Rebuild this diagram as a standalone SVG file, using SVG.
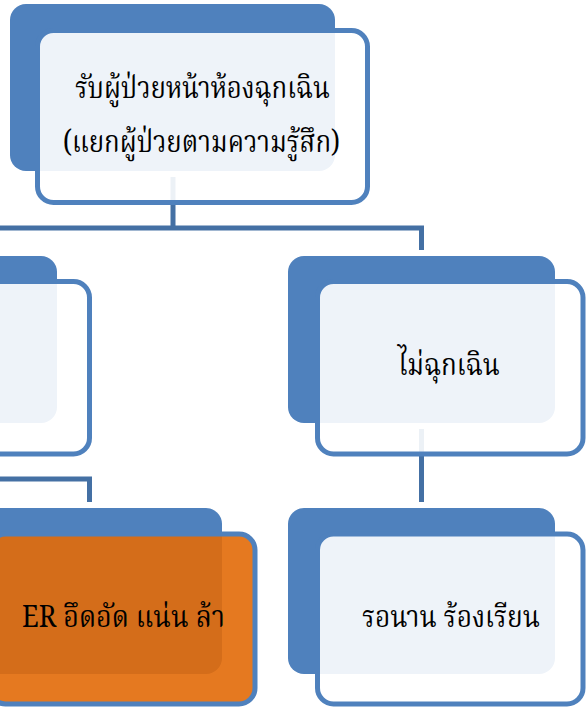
<svg xmlns="http://www.w3.org/2000/svg" width="586" height="714" viewBox="0 0 586 714">
  <style>
    .back { fill: #4F81BD; }
    .front { fill: #FFFFFF; fill-opacity: 0.9; stroke: #4F81BD; stroke-width: 5; }
    .front-hl { fill: #E26A08; fill-opacity: 0.9; stroke: #4F81BD; stroke-width: 5; }
    .conn { fill: none; stroke: #4470A4; stroke-width: 5; stroke-linejoin: miter; }
    .lbl { font-family: "Noto Serif Thai", "Noto Sans Thai", "Liberation Serif", serif; font-size: 31px; fill: #000000; text-anchor: middle; }
  </style>
  <g id="connectors">
    <path class="conn" d="M173 177 V228 M0 228 H421.5 V250"/>
    <path class="conn" d="M421.5 429 V502"/>
    <path class="conn" d="M0 479 H89.5 V502"/>
  </g>
  <g id="node-root">
    <rect class="back" x="10" y="4" width="325" height="167" rx="16"/>
    <rect class="front" x="37.5" y="30.5" width="330" height="172" rx="16"/>
    <text class="lbl" x="202.5" y="98" textLength="255" lengthAdjust="spacingAndGlyphs">รับผู้ป่วยหน้าห้องฉุกเฉิน</text>
    <text class="lbl" x="201.5" y="152" textLength="277" lengthAdjust="spacingAndGlyphs">(แยกผู้ป่วยตามความรู้สึก)</text>
  </g>
  <g id="node-emergency">
    <rect class="back" x="-210" y="256" width="267" height="167" rx="16"/>
    <rect class="front" x="-176" y="281.5" width="265.5" height="172.5" rx="16"/>
  </g>
  <g id="node-nonemergency">
    <rect class="back" x="288" y="256" width="267" height="167" rx="16"/>
    <rect class="front" x="317.5" y="281.5" width="265.5" height="172.5" rx="16"/>
    <text class="lbl" x="449" y="375" textLength="102" lengthAdjust="spacingAndGlyphs">ไม่ฉุกเฉิน</text>
  </g>
  <g id="node-er">
    <rect class="back" x="-45" y="508" width="267" height="166" rx="16"/>
    <rect class="front-hl" x="-10.5" y="534" width="265.5" height="170" rx="16"/>
    <text class="lbl" x="123.5" y="627" textLength="203" lengthAdjust="spacingAndGlyphs">ER อึดอัด แน่น ล้า</text>
  </g>
  <g id="node-wait">
    <rect class="back" x="288" y="508" width="267" height="166" rx="16"/>
    <rect class="front" x="317.5" y="534" width="265.5" height="170" rx="16"/>
    <text class="lbl" x="451" y="627" textLength="178" lengthAdjust="spacingAndGlyphs">รอนาน ร้องเรียน</text>
  </g>
</svg>
